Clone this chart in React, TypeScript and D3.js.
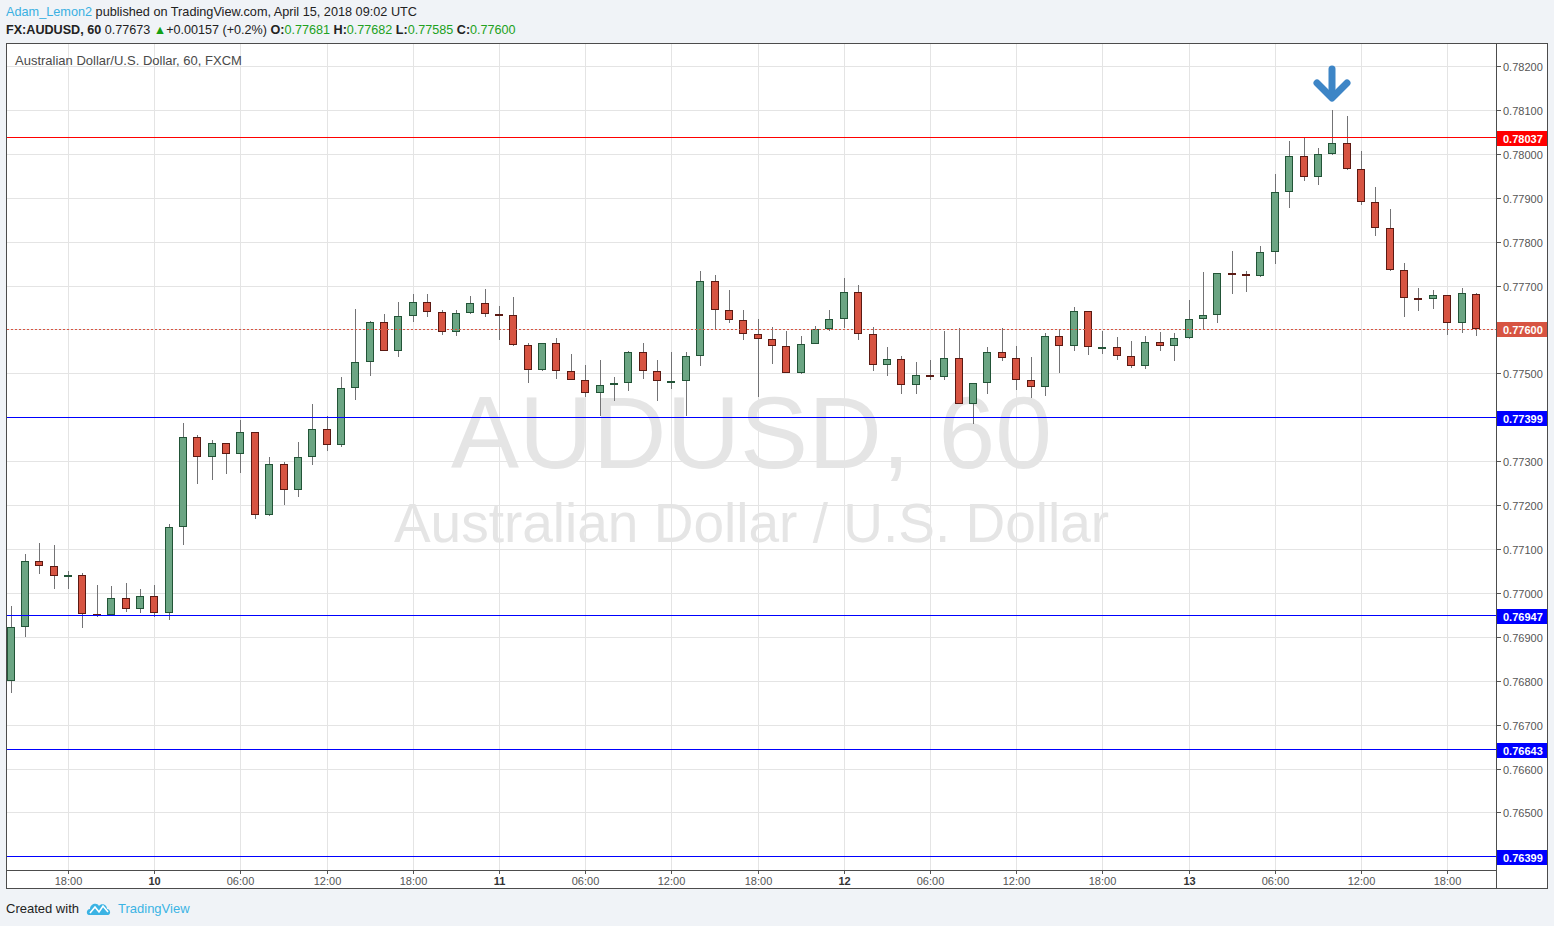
import React from 'react';
import * as d3 from 'd3';

// ---------- DATA ----------
const HOUR = 3600000;
const START = Date.UTC(2018, 3, 9, 14); // first hourly bar

const opens = [
  0.76800, 0.76922, 0.77072, 0.77061, 0.77038, 0.77040, 0.76951, 0.76950, 0.76988, 0.76963,
  0.76992, 0.76954, 0.77150, 0.77355, 0.77309, 0.77341, 0.77316, 0.77366, 0.77177, 0.77293,
  0.77234, 0.77309, 0.77373, 0.77336, 0.77466, 0.77526, 0.77617, 0.77552, 0.77630, 0.77662,
  0.77639, 0.77594, 0.77637, 0.77660, 0.77635, 0.77633, 0.77564, 0.77507, 0.77569, 0.77505,
  0.77485, 0.77455, 0.77473, 0.77478, 0.77548, 0.77505, 0.77482, 0.77482, 0.77539, 0.77710,
  0.77644, 0.77621, 0.77589, 0.77578, 0.77562, 0.77500, 0.77567, 0.77601, 0.77623, 0.77685,
  0.77589, 0.77519, 0.77532, 0.77473, 0.77496, 0.77491, 0.77535, 0.77430, 0.77478, 0.77548,
  0.77535, 0.77485, 0.77469, 0.77585, 0.77562, 0.77642, 0.77560, 0.77560, 0.77539, 0.77516,
  0.77571, 0.77562, 0.77580, 0.77623, 0.77633, 0.77728, 0.77726, 0.77721, 0.77776, 0.77913,
  0.77995, 0.77947, 0.77999, 0.78024, 0.77965, 0.77890, 0.77831, 0.77735, 0.77671, 0.77669,
  0.77678, 0.77614, 0.77681,
];
const highs = [
  0.76970, 0.77089, 0.77114, 0.77109, 0.77050, 0.77046, 0.77018, 0.77016, 0.77023, 0.77009,
  0.77018, 0.77157, 0.77387, 0.77360, 0.77348, 0.77342, 0.77394, 0.77367, 0.77310, 0.77297,
  0.77344, 0.77431, 0.77403, 0.77491, 0.77647, 0.77620, 0.77636, 0.77663, 0.77681, 0.77681,
  0.77644, 0.77644, 0.77677, 0.77693, 0.77654, 0.77674, 0.77569, 0.77569, 0.77580, 0.77544,
  0.77519, 0.77531, 0.77492, 0.77552, 0.77570, 0.77531, 0.77549, 0.77549, 0.77733, 0.77724,
  0.77690, 0.77645, 0.77624, 0.77606, 0.77597, 0.77585, 0.77608, 0.77645, 0.77718, 0.77702,
  0.77605, 0.77560, 0.77539, 0.77526, 0.77531, 0.77597, 0.77604, 0.77478, 0.77560, 0.77603,
  0.77562, 0.77537, 0.77592, 0.77601, 0.77651, 0.77643, 0.77597, 0.77583, 0.77574, 0.77585,
  0.77594, 0.77592, 0.77667, 0.77731, 0.77728, 0.77779, 0.77733, 0.77790, 0.77954, 0.78030,
  0.78038, 0.78013, 0.78100, 0.78087, 0.78007, 0.77924, 0.77874, 0.77752, 0.77695, 0.77690,
  0.77679, 0.77694, 0.77682,
];
const lows = [
  0.76772, 0.76900, 0.77044, 0.77008, 0.77010, 0.76919, 0.76946, 0.76948, 0.76957, 0.76955,
  0.76946, 0.76939, 0.77108, 0.77247, 0.77256, 0.77270, 0.77274, 0.77169, 0.77176, 0.77201,
  0.77219, 0.77292, 0.77324, 0.77333, 0.77440, 0.77495, 0.77550, 0.77538, 0.77618, 0.77629,
  0.77588, 0.77586, 0.77636, 0.77629, 0.77577, 0.77563, 0.77479, 0.77506, 0.77486, 0.77484,
  0.77447, 0.77402, 0.77436, 0.77459, 0.77486, 0.77436, 0.77465, 0.77402, 0.77516, 0.77602,
  0.77614, 0.77577, 0.77447, 0.77522, 0.77500, 0.77499, 0.77566, 0.77596, 0.77604, 0.77577,
  0.77506, 0.77494, 0.77452, 0.77454, 0.77484, 0.77484, 0.77430, 0.77384, 0.77454, 0.77529,
  0.77463, 0.77443, 0.77449, 0.77500, 0.77550, 0.77541, 0.77543, 0.77531, 0.77513, 0.77511,
  0.77550, 0.77529, 0.77579, 0.77598, 0.77614, 0.77680, 0.77686, 0.77720, 0.77750, 0.77876,
  0.77937, 0.77928, 0.77998, 0.77964, 0.77883, 0.77813, 0.77734, 0.77628, 0.77642, 0.77646,
  0.77587, 0.77592, 0.77585,
];
const closes = [
  0.76922, 0.77072, 0.77061, 0.77038, 0.77040, 0.76951, 0.76949, 0.76988, 0.76963, 0.76992,
  0.76954, 0.77150, 0.77355, 0.77309, 0.77341, 0.77316, 0.77366, 0.77177, 0.77293, 0.77234,
  0.77309, 0.77373, 0.77336, 0.77466, 0.77526, 0.77617, 0.77552, 0.77630, 0.77662, 0.77639,
  0.77594, 0.77637, 0.77660, 0.77635, 0.77633, 0.77564, 0.77507, 0.77569, 0.77505, 0.77485,
  0.77455, 0.77473, 0.77478, 0.77548, 0.77505, 0.77482, 0.77483, 0.77539, 0.77710, 0.77644,
  0.77621, 0.77589, 0.77578, 0.77562, 0.77500, 0.77567, 0.77601, 0.77623, 0.77685, 0.77589,
  0.77519, 0.77532, 0.77473, 0.77496, 0.77491, 0.77535, 0.77430, 0.77478, 0.77548, 0.77535,
  0.77485, 0.77469, 0.77585, 0.77562, 0.77642, 0.77560, 0.77561, 0.77539, 0.77516, 0.77571,
  0.77562, 0.77580, 0.77623, 0.77633, 0.77728, 0.77726, 0.77721, 0.77776, 0.77913, 0.77995,
  0.77947, 0.77999, 0.78024, 0.77965, 0.77890, 0.77831, 0.77735, 0.77671, 0.77669, 0.77678,
  0.77614, 0.77683, 0.77600,
];

const priceTicks = [
  0.764, 0.765, 0.766, 0.767, 0.768, 0.769, 0.770, 0.771, 0.772, 0.773,
  0.774, 0.775, 0.776, 0.777, 0.778, 0.779, 0.780, 0.781, 0.782,
];
const timeTicks = [
  '2018-04-09T18:00:00Z', '2018-04-10T00:00:00Z', '2018-04-10T06:00:00Z', '2018-04-10T12:00:00Z',
  '2018-04-10T18:00:00Z', '2018-04-11T00:00:00Z', '2018-04-11T06:00:00Z', '2018-04-11T12:00:00Z',
  '2018-04-11T18:00:00Z', '2018-04-12T00:00:00Z', '2018-04-12T06:00:00Z', '2018-04-12T12:00:00Z',
  '2018-04-12T18:00:00Z', '2018-04-13T00:00:00Z', '2018-04-13T06:00:00Z', '2018-04-13T12:00:00Z',
  '2018-04-13T18:00:00Z',
];

const levelPrices = [0.78037, 0.77399, 0.76947, 0.76643, 0.76399];
const levelColors = ['#ff0000', '#0000ff', '#0000ff', '#0000ff', '#0000ff'];
const lastPrice = 0.776;
const arrowBar = 92;
const arrowTipPrice = 0.78127;
const arrowTopPrice = 0.78193;

// ---------- LAYOUT ----------
const W = 1554;
const H = 926;
const PL = 7, PR = 1496, PT = 44, PB = 870;
const FONT = '"Liberation Sans", Arial, sans-serif';

const UP_FILL = '#6ba583', UP_LINE = '#225437';
const DN_FILL = '#d75442', DN_LINE = '#5b1a13';
const WICK = '#737375';
const GRID = '#e4e4e4';
const FRAME = '#4c4c4c';
const AXIS_TXT = '#555555';

export default function App() {
  const x = d3.scaleUtc()
    .domain([new Date(START - 0.25 * HOUR), new Date(START + 103.4 * HOUR)])
    .range([PL, PR]);
  const y = d3.scaleLinear().domain([0.76369, 0.7825]).range([PB, PT]);
  const fmt = d3.format('.5f');
  const dayFmt = d3.utcFormat('%-d');
  const hmFmt = d3.utcFormat('%H:%M');

  const bars = opens.map((o, i) => ({
    t: new Date(START + i * HOUR), o, h: highs[i], l: lows[i], c: closes[i],
  }));
  const tt = timeTicks.map((s) => new Date(s));
  const labelPrices = [...levelPrices, lastPrice];
  const shownTicks = priceTicks.filter(
    (p) => !labelPrices.some((lp) => Math.abs(y(p) - y(lp)) < 11)
  );
  const lineY = (p: number) => Math.round(y(p) - 0.7) + 0.5;

  const ax = Math.round(x(new Date(START + arrowBar * HOUR)));
  const ayTip = y(arrowTipPrice);
  const ayTop = y(arrowTopPrice);

  return (
    <svg width={W} height={H} style={{ position: 'absolute', left: 0, top: 0, display: 'block' }}
      fontFamily={FONT}>
      <rect x={0} y={0} width={W} height={H} fill="#f0f3f7" />

      {/* header */}
      <text x={6} y={16} fontSize={12.7}>
        <tspan fill="#3ab0e2">Adam_Lemon2</tspan>
        <tspan fill="#222"> published on TradingView.com, April 15, 2018 09:02 UTC</tspan>
      </text>
      <text x={6} y={33.5} fontSize={12.6} fill="#222">
        <tspan fontWeight="bold">FX:AUDUSD, 60</tspan>
        <tspan> 0.77673 </tspan>
        <tspan fill="#14a014">▲</tspan>
        <tspan>+0.00157 (+0.2%) </tspan>
        <tspan fontWeight="bold">O:</tspan><tspan fill="#21a121">0.77681</tspan>
        <tspan fontWeight="bold"> H:</tspan><tspan fill="#21a121">0.77682</tspan>
        <tspan fontWeight="bold"> L:</tspan><tspan fill="#21a121">0.77585</tspan>
        <tspan fontWeight="bold"> C:</tspan><tspan fill="#21a121">0.77600</tspan>
      </text>

      {/* chart frame */}
      <rect x={6.5} y={43.5} width={1541} height={845} fill="#ffffff" stroke={FRAME} />

      {/* grid */}
      {priceTicks.map((p) => (
        <line key={'hg' + p} x1={PL} x2={PR} y1={Math.round(y(p)) + 0.5} y2={Math.round(y(p)) + 0.5}
          stroke={GRID} />
      ))}
      {tt.map((t) => (
        <line key={'vg' + t.getTime()} x1={Math.round(x(t)) + 0.5} x2={Math.round(x(t)) + 0.5}
          y1={PT} y2={PB} stroke={GRID} />
      ))}

      {/* watermark */}
      <text x={(PL + PR) / 2} y={468} textAnchor="middle" fontSize={102} fill="#e5e5e5">AUDUSD, 60</text>
      <text x={(PL + PR) / 2} y={542} textAnchor="middle" fontSize={55} fill="#e5e5e5">
        Australian Dollar / U.S. Dollar
      </text>

      {/* chart title */}
      <text x={15} y={64.5} fontSize={13} fill="#4a4a4a">Australian Dollar/U.S. Dollar, 60, FXCM</text>

      {/* candles */}
      {bars.map((b, i) => {
        const cx = Math.round(x(b.t));
        const up = b.c >= b.o;
        const top = Math.round(y(Math.max(b.o, b.c)));
        const bot = Math.round(y(Math.min(b.o, b.c)));
        const fill = up ? UP_FILL : DN_FILL;
        const line = up ? UP_LINE : DN_LINE;
        return (
          <g key={i}>
            <line x1={cx + 0.5} x2={cx + 0.5} y1={Math.round(y(b.h))} y2={Math.round(y(b.l))}
              stroke={WICK} />
            {bot - top < 2 ? (
              <rect x={cx - 4} y={top} width={8} height={2} fill={line} />
            ) : (
              <rect x={cx - 3.5} y={top + 0.5} width={7} height={bot - top - 1} fill={fill}
                stroke={line} />
            )}
          </g>
        );
      })}

      {/* horizontal levels */}
      {levelPrices.map((p, i) => (
        <line key={'lv' + p} x1={PL} x2={PR} y1={lineY(p)} y2={lineY(p)} stroke={levelColors[i]} />
      ))}
      <line x1={PL} x2={PR} y1={Math.round(y(lastPrice)) + 0.5} y2={Math.round(y(lastPrice)) + 0.5}
        stroke={DN_FILL} strokeDasharray="2,2" />

      {/* arrow annotation */}
      <g stroke="#3d85c6" strokeWidth={7} strokeLinecap="round" strokeLinejoin="round" fill="none">
        <line x1={ax} x2={ax} y1={ayTop} y2={ayTip - 2} />
        <polyline points={`${ax - 15},${ayTip - 15} ${ax},${ayTip} ${ax + 15},${ayTip - 15}`} />
      </g>

      {/* axes separators */}
      <line x1={PR + 0.5} x2={PR + 0.5} y1={43.5} y2={888.5} stroke={FRAME} />
      <line x1={6.5} x2={PR + 0.5} y1={PB + 0.5} y2={PB + 0.5} stroke={FRAME} />

      {/* price axis */}
      {shownTicks.map((p) => {
        const yy = Math.round(y(p)) + 0.5;
        return (
          <g key={'pt' + p}>
            <line x1={PR + 1} x2={PR + 5} y1={yy} y2={yy} stroke={AXIS_TXT} />
            <text x={1503} y={yy + 4} fontSize={11} fill={AXIS_TXT}>{fmt(p)}</text>
          </g>
        );
      })}
      {labelPrices.map((p, i) => {
        const yy = Math.round(y(p));
        const bg = i < levelColors.length ? levelColors[i] : DN_FILL;
        return (
          <g key={'pl' + p}>
            <rect x={PR + 1} y={yy - 7} width={1547 - PR - 1} height={15} fill={bg} />
            <text x={1503} y={yy + 4.5} fontSize={11} fontWeight="bold" fill="#ffffff">{fmt(p)}</text>
          </g>
        );
      })}

      {/* time axis */}
      {tt.map((t) => {
        const xx = Math.round(x(t)) + 0.5;
        const isDay = t.getUTCHours() === 0;
        return (
          <g key={'tt' + t.getTime()}>
            <line x1={xx} x2={xx} y1={PB + 1} y2={PB + 4} stroke={AXIS_TXT} />
            <text x={xx} y={885} fontSize={11} textAnchor="middle" fill={isDay ? '#333' : AXIS_TXT}
              fontWeight={isDay ? 'bold' : 'normal'}>
              {isDay ? dayFmt(t) : hmFmt(t)}
            </text>
          </g>
        );
      })}

      {/* footer */}
      <text x={6} y={912.5} fontSize={13} fill="#222">Created with</text>
      <g>
        <path d="M89,915 C86,915 86,909 90,909 C90,904 97,902 99,906 C101,903 107,904 107,909 C111,909 111,915 108,915 Z"
          fill="#3bb3e4" />
        <polyline points="90,913 95,907 99,912 103,906 108,912" fill="none" stroke="#ffffff" strokeWidth={1.6} />
      </g>
      <text x={118} y={912.5} fontSize={13} fill="#3bb3e4">TradingView</text>
    </svg>
  );
}
